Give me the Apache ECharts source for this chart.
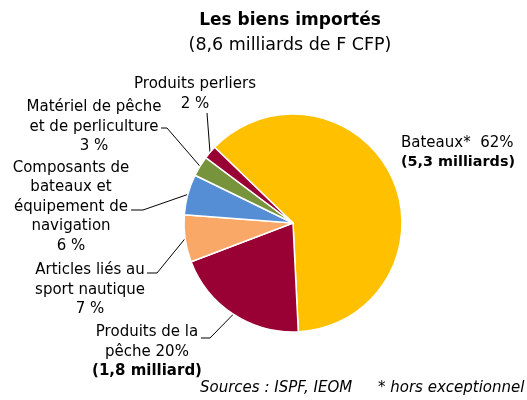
<!DOCTYPE html>
<html><head><meta charset="utf-8">
<script src="https://cdn.jsdelivr.net/npm/echarts@6/dist/echarts.min.js"></script>
<style>html,body{margin:0;padding:0;background:#fff}#c{width:527px;height:400px}</style>
</head><body><div id="c"></div>
<script>
// ---- data ----
const categories = ['Bateaux*', 'Produits de la pêche', 'Articles liés au sport nautique',
  'Composants de bateaux et équipement de navigation', 'Matériel de pêche et de perliculture', 'Produits perliers'];
const shares = [62, 20, 7, 6, 3, 2];
const amounts = ['5,3 milliards', '1,8 milliard', null, null, null, null];
const labelNames = ['Bateaux*', 'Produits de la\npêche', 'Articles liés au\nsport nautique',
  'Composants de\nbateaux et\néquipement de\nnavigation', 'Matériel de pêche\net de perliculture', 'Produits perliers'];
const colors = ['#FFC000', '#990033', '#F9A868', '#558ED5', '#77933C', '#990033'];

// ---- layout (label anchors & leader line elbows) ----
const labelLayouts = [
  {x: 401, y: 153, align: 'left'},
  {x: 147, y: 352, align: 'center', elbow: [210, 338], end: [201, 338]},
  {x: 90, y: 290, align: 'center', elbow: [157, 273], end: [147, 273]},
  {x: 71, y: 207, align: 'center', elbow: [143, 210], end: [131, 210]},
  {x: 94, y: 127, align: 'center', elbow: [167, 128], end: [161, 128]},
  {x: 195, y: 94, align: 'center', elbow: [207, 113], end: [207, 113]}
];

function labelText(i) {
  const v = shares[i];
  if (i === 0) return labelNames[i] + '  ' + v + '%\n{b2|(' + amounts[i] + ')}';
  if (i === 1) return labelNames[i] + ' ' + v + '%\n{b|(' + amounts[i] + ')}';
  return labelNames[i] + '\n' + v + ' %';
}

const FONT = 'DejaVu Sans';
const FS = 15;
const chart = echarts.init(document.getElementById('c'), null, {renderer: 'canvas'});
chart.setOption({
  animation: false,
  backgroundColor: '#fff',
  graphic: [
    {type: 'text', x: 290, y: 21, style: {text: 'Les biens importés', font: 'bold 17px "DejaVu Sans"', fill: '#000', align: 'center', verticalAlign: 'middle'}},
    {type: 'text', x: 290, y: 45, style: {text: '(8,6 milliards de F CFP)', font: '17.5px "DejaVu Sans"', fill: '#000', align: 'center', verticalAlign: 'middle'}},
    {type: 'text', x: 200, y: 388, style: {text: 'Sources : ISPF, IEOM', font: 'italic 15px "DejaVu Sans"', fill: '#000', align: 'left', verticalAlign: 'middle'}},
    {type: 'text', x: 378, y: 388, style: {text: '* hors exceptionnel', font: 'italic 15px "DejaVu Sans"', fill: '#000', align: 'left', verticalAlign: 'middle'}}
  ],
  series: [{
    type: 'pie',
    center: [293, 223],
    radius: 109,
    startAngle: 136,
    clockwise: true,
    avoidLabelOverlap: false,
    itemStyle: {borderColor: '#fff', borderWidth: 1.5},
    label: {
      show: true, position: 'outside', color: '#000', fontFamily: FONT, fontSize: FS, lineHeight: 19.5,
      formatter: p => labelText(p.dataIndex),
      rich: {
        b: {fontFamily: FONT, fontSize: FS, fontWeight: 'bold', lineHeight: 19.5, color: '#000'},
        b2: {fontFamily: FONT, fontSize: 14.4, fontWeight: 'bold', lineHeight: 19.5, color: '#000'}
      }
    },
    labelLine: {show: true, length: 10, length2: 10, lineStyle: {color: '#000', width: 1}},
    labelLayout: function (params) {
      const L = labelLayouts[params.dataIndex];
      const out = {x: L.x, y: L.y, align: L.align, verticalAlign: 'middle'};
      if (L.elbow && params.labelLinePoints) {
        out.labelLinePoints = [params.labelLinePoints[0], L.elbow, L.end];
      }
      return out;
    },
    emphasis: {disabled: true},
    data: categories.map((c, i) => ({
      name: c, value: shares[i],
      itemStyle: {color: colors[i]},
      labelLine: {show: i !== 0}
    }))
  }]
});
</script></body></html>
